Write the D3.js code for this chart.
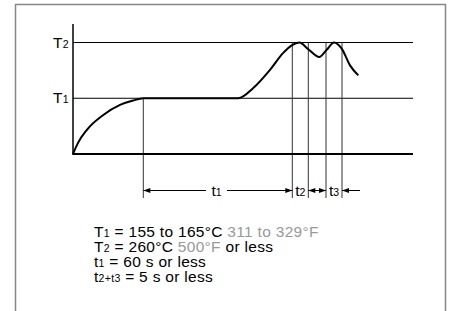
<!DOCTYPE html>
<html>
<head>
<meta charset="utf-8">
<title>reflow profile</title>
<style>
  body { margin: 0; background: #fff; }
  text { font-family: "Liberation Sans", Arial, sans-serif; }
</style>
</head>
<body>
<script src="https://cdn.jsdelivr.net/npm/d3@7"></script>
<script>
// temperature profile (time in arbitrary units, temperature in °C)
var profileTime = [0, 5, 13.7, 30.3, 47, 60, 70.3, 165.3, 180, 197, 210, 218.7, 226.3, 235.3, 246.3, 253.7, 261, 268.7, 277, 285.3];
var profileTemp = [60, 80, 103, 130, 148, 156, 160, 160, 178, 211, 241, 255, 260, 248, 234, 247, 260, 249, 219, 201];

// reference temperature levels and their labels
var levelTemps = [160, 260];
var levelLabels = [["T", "1"], ["T", "2"]];

// marker times: start of t1, start of t2, start of t3, end of t3
var markerTimes = [70.3, 219.3, 235.3, 253, 269];
var intervalLabels = [["t", "1"], ["t", "2"], ["t", "3"]];

// spec lines: [text, color, size] pieces
var specLines = [
  [["T", "#000", 15.5], ["1", "#000", 10.5], [" = 155 to 165°C ", "#000", 15.5], ["311 to 329°F", "#999", 15.5]],
  [["T", "#000", 15.5], ["2", "#000", 10.5], [" = 260°C ", "#000", 15.5], ["500°F", "#999", 15.5], [" or less", "#000", 15.5]],
  [["t", "#000", 15.5], ["1", "#000", 10.5], [" = 60 s or less", "#000", 15.5]],
  [["t", "#000", 15.5], ["2+t3", "#000", 10.5], [" = 5 s or less", "#000", 15.5]]
];

var width = 455, height = 311;
var svg = d3.select("body").append("svg")
  .attr("width", width).attr("height", height);

// frame
svg.append("path")
  .attr("d", "M15.5,320V4.5H445.5V320")
  .attr("fill", "none").attr("stroke", "#888").attr("stroke-width", 1.5);

var x = d3.scaleLinear().domain([0, 340]).range([73, 413]);
var y = d3.scaleLinear().domain([60, 260]).range([154, 42.5]);

// level lines
svg.selectAll(".level").data(levelTemps).enter().append("line")
  .attr("x1", x(0)).attr("x2", x(340))
  .attr("y1", function(d){ return y(d); }).attr("y2", function(d){ return y(d); })
  .attr("stroke", "#000").attr("stroke-width", 1);

// level labels
var lab = svg.selectAll(".lab").data(levelTemps).enter().append("text")
  .attr("x", 69).attr("y", function(d){ return y(d) + 5; })
  .attr("text-anchor", "end").attr("font-size", 15.5).attr("letter-spacing", 0.3);
lab.append("tspan").text(function(d, i){ return levelLabels[i][0]; });
lab.append("tspan").attr("font-size", 10.5).text(function(d, i){ return levelLabels[i][1]; });

// marker verticals
svg.selectAll(".mk").data(markerTimes).enter().append("line")
  .attr("x1", function(d){ return x(d); }).attr("x2", function(d){ return x(d); })
  .attr("y1", function(d, i){ return i == 0 ? y(160) : y(260); })
  .attr("y2", 198)
  .attr("stroke", "#333").attr("stroke-width", 1);

// axes
svg.append("line").attr("x1", x(0)).attr("x2", x(0)).attr("y1", 24).attr("y2", y(60))
  .attr("stroke", "#000").attr("stroke-width", 1.5);
svg.append("line").attr("x1", x(0) - 0.75).attr("x2", x(340)).attr("y1", y(60)).attr("y2", y(60))
  .attr("stroke", "#000").attr("stroke-width", 2);

// curve
var line = d3.line()
  .x(function(d, i){ return x(profileTime[i]); })
  .y(function(d){ return y(d); })
  .curve(d3.curveMonotoneX);
svg.append("path").datum(profileTemp)
  .attr("d", line)
  .attr("fill", "none").attr("stroke", "#000").attr("stroke-width", 2);

// dimension row
var ay = 190.5;
function arrowHead(px, dir) {
  svg.append("path")
    .attr("d", "M" + px + "," + ay + "l" + (-dir * 7) + ",-2.5v5z")
    .attr("fill", "#000");
}
function seg(a, b) {
  svg.append("line").attr("x1", a).attr("x2", b).attr("y1", ay).attr("y2", ay)
    .attr("stroke", "#000").attr("stroke-width", 1);
}
var m = markerTimes.map(function(d){ return x(d); });
seg(m[0], 206); seg(227, m[1]);
arrowHead(m[0], -1); arrowHead(m[1], 1);
seg(m[2], m[3]);
arrowHead(m[2], -1); arrowHead(m[3], 1);
seg(m[4], m[4] + 18);
arrowHead(m[4], -1);

var labX = [216.5, 300.3, (m[3] + m[4]) / 2];
intervalLabels.forEach(function(l, i){
  var t = svg.append("text").attr("x", labX[i]).attr("y", ay + 5.5)
    .attr("text-anchor", "middle").attr("font-size", 15.5);
  t.append("tspan").text(l[0]);
  t.append("tspan").attr("font-size", 10.5).text(l[1]);
});

// spec text
specLines.forEach(function(parts, i){
  var t = svg.append("text").attr("x", 94).attr("y", 236.7 + i * 15)
    .attr("letter-spacing", 0.3);
  parts.forEach(function(p){
    t.append("tspan").attr("fill", p[1]).attr("font-size", p[2]).text(p[0]);
  });
});
</script>
</body>
</html>
